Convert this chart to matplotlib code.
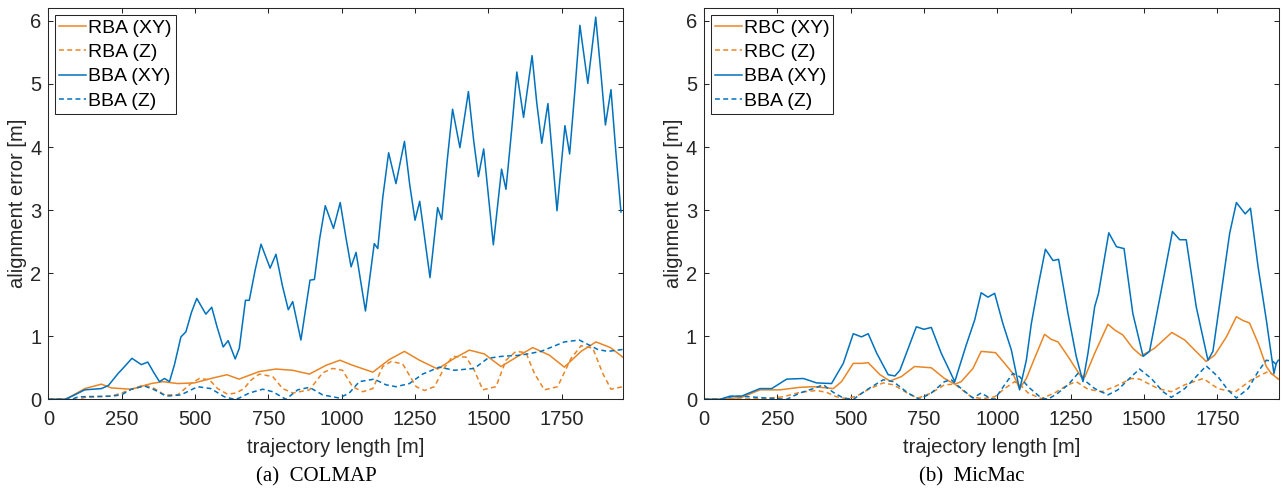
"""Alignment error along the trajectory: COLMAP vs MicMac."""

import matplotlib

matplotlib.use("Agg")

import matplotlib.pyplot as plt
import numpy as np

# (a) COLMAP
colmap_bba_xy_x = [0, 57, 90, 124, 181, 205, 238, 260, 285, 317, 339, 360, 379, 396, 413, 430, 452, 469, 488,
                   506, 537, 557, 575, 596, 613, 637, 651, 672, 685, 705, 725, 756, 776, 798, 818, 833, 861, 892,
                   907, 925, 944, 972, 995, 1015, 1032, 1049, 1081, 1111, 1123, 1140, 1160, 1185, 1214, 1232,
                   1250, 1266, 1301, 1327, 1341, 1360, 1378, 1403, 1432, 1450, 1466, 1484, 1517, 1545, 1560,
                   1580, 1597, 1620, 1649, 1665, 1682, 1703, 1734, 1761, 1777, 1795, 1812, 1839, 1866, 1885,
                   1899, 1918, 1935, 1952]
colmap_bba_xy_y = [0.0, 0.0, 0.07, 0.15, 0.17, 0.22, 0.41, 0.52, 0.65, 0.55, 0.59, 0.42, 0.28, 0.33, 0.28, 0.55,
                   0.99, 1.07, 1.38, 1.60, 1.35, 1.46, 1.15, 0.83, 0.93, 0.64, 0.81, 1.57, 1.57, 2.05, 2.46, 2.08,
                   2.30, 1.80, 1.42, 1.55, 0.94, 1.89, 1.90, 2.55, 3.07, 2.71, 3.12, 2.55, 2.10, 2.33, 1.40, 2.47,
                   2.39, 3.20, 3.91, 3.42, 4.09, 3.40, 2.84, 3.14, 1.93, 3.04, 2.85, 3.80, 4.60, 3.99, 4.88, 4.10,
                   3.53, 3.97, 2.45, 3.65, 3.33, 4.30, 5.19, 4.47, 5.45, 4.70, 4.06, 4.69, 2.99, 4.34, 3.89, 4.90,
                   5.93, 5.01, 6.06, 5.10, 4.35, 4.91, 3.90, 2.97]

colmap_rba_xy_x = [0, 60, 124, 181, 215, 283, 351, 390, 441, 498, 554, 609, 650, 719, 776, 833, 890, 947, 994,
                   1037, 1106, 1162, 1214, 1265, 1327, 1384, 1435, 1486, 1543, 1600, 1651, 1708, 1759, 1816,
                   1867, 1916, 1958]
colmap_rba_xy_y = [0.0, 0.0, 0.17, 0.24, 0.18, 0.16, 0.25, 0.28, 0.25, 0.26, 0.33, 0.39, 0.32, 0.44, 0.48, 0.46,
                   0.40, 0.54, 0.62, 0.54, 0.43, 0.63, 0.76, 0.62, 0.48, 0.65, 0.78, 0.72, 0.52, 0.68, 0.82, 0.70,
                   0.51, 0.76, 0.91, 0.82, 0.67]

colmap_rba_z_x = [0, 100, 124, 215, 250, 283, 328, 362, 396, 441, 486, 515, 549, 577, 611, 640, 667, 690, 719,
                  765, 799, 833, 890, 935, 969, 1003, 1037, 1072, 1106, 1140, 1169, 1208, 1254, 1282, 1316,
                  1350, 1378, 1424, 1452, 1481, 1526, 1560, 1594, 1628, 1657, 1691, 1736, 1782, 1816, 1856,
                  1890, 1918, 1958]
colmap_rba_z_y = [0.0, 0.0, 0.03, 0.05, 0.10, 0.16, 0.23, 0.17, 0.07, 0.07, 0.25, 0.33, 0.31, 0.17, 0.08, 0.10,
                  0.17, 0.30, 0.40, 0.36, 0.17, 0.10, 0.15, 0.42, 0.49, 0.46, 0.20, 0.12, 0.17, 0.52, 0.60, 0.56,
                  0.20, 0.14, 0.20, 0.50, 0.68, 0.67, 0.46, 0.15, 0.20, 0.62, 0.76, 0.74, 0.41, 0.15, 0.20, 0.65,
                  0.85, 0.81, 0.41, 0.16, 0.20]

colmap_bba_z_x = [0, 80, 102, 215, 249, 283, 328, 362, 402, 452, 509, 554, 600, 634, 651, 685, 731, 765, 810,
                  850, 890, 935, 992, 1026, 1060, 1111, 1151, 1185, 1231, 1276, 1333, 1384, 1452, 1498, 1543,
                  1611, 1680, 1759, 1810, 1873, 1907, 1958]
colmap_bba_z_y = [0.0, 0.0, 0.04, 0.05, 0.07, 0.16, 0.21, 0.15, 0.05, 0.07, 0.20, 0.17, 0.04, 0.0, 0.02, 0.10,
                  0.16, 0.12, 0.0, 0.15, 0.19, 0.07, 0.02, 0.10, 0.28, 0.32, 0.23, 0.20, 0.25, 0.40, 0.51, 0.46,
                  0.49, 0.65, 0.68, 0.70, 0.76, 0.91, 0.94, 0.79, 0.76, 0.79]

# (b) MicMac
micmac_bba_xy_x = [0, 55, 89, 128, 191, 231, 282, 339, 384, 435, 475, 509, 537, 560, 589, 628, 651, 668, 690,
                   724, 750, 775, 809, 855, 894, 923, 945, 968, 991, 1019, 1048, 1076, 1099, 1116, 1139, 1164,
                   1190, 1209, 1241, 1269, 1292, 1309, 1332, 1345, 1380, 1406, 1432, 1462, 1497, 1519, 1559,
                   1597, 1622, 1644, 1678, 1718, 1735, 1764, 1792, 1815, 1845, 1863, 1889, 1917, 1943, 1951,
                   1958]
micmac_bba_xy_y = [0.0, 0.0, 0.05, 0.05, 0.17, 0.17, 0.32, 0.33, 0.26, 0.25, 0.57, 1.04, 0.99, 1.04, 0.73, 0.39,
                   0.37, 0.46, 0.73, 1.15, 1.11, 1.14, 0.73, 0.28, 0.86, 1.26, 1.69, 1.62, 1.68, 1.20, 0.78, 0.15,
                   0.62, 1.20, 1.79, 2.38, 2.20, 2.22, 1.36, 0.68, 0.28, 0.73, 1.47, 1.68, 2.64, 2.42, 2.39, 1.36,
                   0.68, 0.76, 1.73, 2.66, 2.53, 2.53, 1.47, 0.62, 0.76, 1.71, 2.63, 3.12, 2.94, 3.03, 2.10, 1.26,
                   0.41, 0.57, 0.62]

micmac_rbc_xy_x = [0, 55, 128, 191, 259, 327, 373, 441, 469, 509, 537, 560, 600, 634, 673, 718, 775, 820, 855,
                   877, 917, 945, 994, 1025, 1053, 1076, 1099, 1127, 1161, 1184, 1207, 1241, 1281, 1298, 1332,
                   1377, 1400, 1428, 1462, 1491, 1536, 1595, 1639, 1673, 1712, 1741, 1781, 1815, 1837, 1860,
                   1889, 1917, 1934, 1958]
micmac_rbc_xy_y = [0.0, 0.0, 0.03, 0.15, 0.15, 0.19, 0.20, 0.17, 0.28, 0.57, 0.57, 0.58, 0.39, 0.29, 0.36, 0.52,
                   0.50, 0.33, 0.24, 0.28, 0.49, 0.76, 0.74, 0.57, 0.41, 0.17, 0.33, 0.65, 1.03, 0.95, 0.91, 0.68,
                   0.39, 0.35, 0.73, 1.19, 1.10, 1.02, 0.81, 0.69, 0.81, 1.06, 0.94, 0.78, 0.60, 0.70, 0.99, 1.31,
                   1.25, 1.21, 0.89, 0.52, 0.41, 0.32]

micmac_rbc_z_x = [0, 55, 200, 270, 327, 384, 418, 452, 486, 520, 566, 611, 645, 668, 700, 730, 775, 820, 855,
                  880, 911, 951, 991, 1025, 1059, 1080, 1105, 1150, 1195, 1241, 1269, 1309, 1355, 1400, 1457,
                  1485, 1548, 1593, 1639, 1702, 1752, 1809, 1866, 1923, 1951, 1958]
micmac_rbc_z_y = [0.0, 0.0, 0.01, 0.04, 0.11, 0.14, 0.11, 0.04, 0.01, 0.05, 0.17, 0.26, 0.23, 0.17, 0.08, 0.02,
                  0.10, 0.23, 0.24, 0.15, 0.04, 0.01, 0.04, 0.17, 0.28, 0.22, 0.10, 0.01, 0.10, 0.23, 0.28, 0.16,
                  0.12, 0.20, 0.33, 0.32, 0.17, 0.12, 0.23, 0.33, 0.17, 0.11, 0.31, 0.44, 0.36, 0.32]

micmac_bba_z_x = [0, 60, 100, 157, 214, 282, 327, 373, 407, 441, 475, 509, 555, 611, 645, 668, 695, 735, 775,
                  820, 843, 877, 917, 945, 974, 991, 1025, 1053, 1076, 1105, 1150, 1173, 1207, 1241, 1275, 1303,
                  1332, 1377, 1411, 1457, 1485, 1525, 1565, 1593, 1639, 1684, 1712, 1752, 1786, 1815, 1855,
                  1889, 1917, 1940, 1958]
micmac_bba_z_y = [0.0, 0.0, 0.05, 0.04, 0.02, 0.0, 0.10, 0.17, 0.23, 0.11, 0.02, 0.0, 0.15, 0.31, 0.28, 0.20,
                  0.10, 0.0, 0.10, 0.28, 0.31, 0.17, 0.02, 0.10, 0.02, 0.0, 0.23, 0.41, 0.36, 0.20, 0.02, 0.0,
                  0.10, 0.23, 0.41, 0.28, 0.17, 0.07, 0.15, 0.36, 0.48, 0.33, 0.12, 0.03, 0.17, 0.39, 0.53, 0.36,
                  0.15, 0.02, 0.17, 0.44, 0.62, 0.60, 0.52]

x_ticks = [0, 250, 500, 750, 1000, 1250, 1500, 1750]
y_ticks = [0, 1, 2, 3, 4, 5, 6]

BLUE = "#0072BD"
ORANGE = "#E98524"
AX_COLOR = "#262626"
DASH = (0, (3.2, 2.2))
FS = 14.5
LEGEND_FS = 14


def style_axes(ax):
    ax.set_xlim(0, 1960)
    ax.set_ylim(0, 6.2)
    ax.set_xticks(x_ticks)
    ax.set_yticks(y_ticks)
    ax.tick_params(direction="in", length=3.5, width=0.75, top=True, right=True,
                   colors=AX_COLOR, labelsize=FS)
    ax.tick_params(axis="x", pad=8)
    ax.tick_params(axis="y", pad=5)
    for spine in ax.spines.values():
        spine.set_color(AX_COLOR)
        spine.set_linewidth(0.75)
    ax.set_xlabel("trajectory length [m]", fontsize=FS, color=AX_COLOR, labelpad=6)
    ax.set_ylabel("alignment error [m]", fontsize=FS, color=AX_COLOR, labelpad=2)


def add_legend(ax):
    leg = ax.legend(loc="upper left", fontsize=LEGEND_FS, frameon=True, fancybox=False, framealpha=1,
                    edgecolor=AX_COLOR, borderaxespad=0.35, borderpad=0.2, labelspacing=0.35,
                    handlelength=1.4, handletextpad=0.1)
    leg.get_frame().set_linewidth(0.75)


def main() -> None:
    plt.rcParams["font.family"] = ["Liberation Sans", "DejaVu Sans"]
    plt.rcParams["lines.solid_joinstyle"] = "round"
    plt.rcParams["lines.dash_joinstyle"] = "round"
    fig = plt.figure(figsize=(12.82, 4.92), dpi=100)
    ax_a = fig.add_axes([0.0377, 0.1884, 0.4485, 0.7947])
    ax_b = fig.add_axes([0.5491, 0.1884, 0.4485, 0.7947])

    ax_a.plot(colmap_rba_xy_x, colmap_rba_xy_y, color=ORANGE, lw=1.1, label="RBA (XY)")
    ax_a.plot(colmap_rba_z_x, colmap_rba_z_y, color=ORANGE, lw=1.1, ls=DASH, label="RBA (Z)")
    ax_a.plot(colmap_bba_xy_x, colmap_bba_xy_y, color=BLUE, lw=1.1, label="BBA (XY)")
    ax_a.plot(colmap_bba_z_x, colmap_bba_z_y, color=BLUE, lw=1.1, ls=DASH, label="BBA (Z)")

    ax_b.plot(micmac_rbc_xy_x, micmac_rbc_xy_y, color=ORANGE, lw=1.1, label="RBC (XY)")
    ax_b.plot(micmac_rbc_z_x, micmac_rbc_z_y, color=ORANGE, lw=1.1, ls=DASH, label="RBC (Z)")
    ax_b.plot(micmac_bba_xy_x, micmac_bba_xy_y, color=BLUE, lw=1.1, label="BBA (XY)")
    ax_b.plot(micmac_bba_z_x, micmac_bba_z_y, color=BLUE, lw=1.1, ls=DASH, label="BBA (Z)")

    for ax in (ax_a, ax_b):
        style_axes(ax)
        add_legend(ax)

    fig.text(316 / 1282, 1 - 477 / 492, "(a)  COLMAP", ha="center", va="center",
             family="Liberation Serif", fontsize=15)
    fig.text(972 / 1282, 1 - 477 / 492, "(b)  MicMac", ha="center", va="center",
             family="Liberation Serif", fontsize=15)

    fig.savefig("out.png", dpi=100, facecolor="white")
    plt.close(fig)


if __name__ == "__main__":
    main()
